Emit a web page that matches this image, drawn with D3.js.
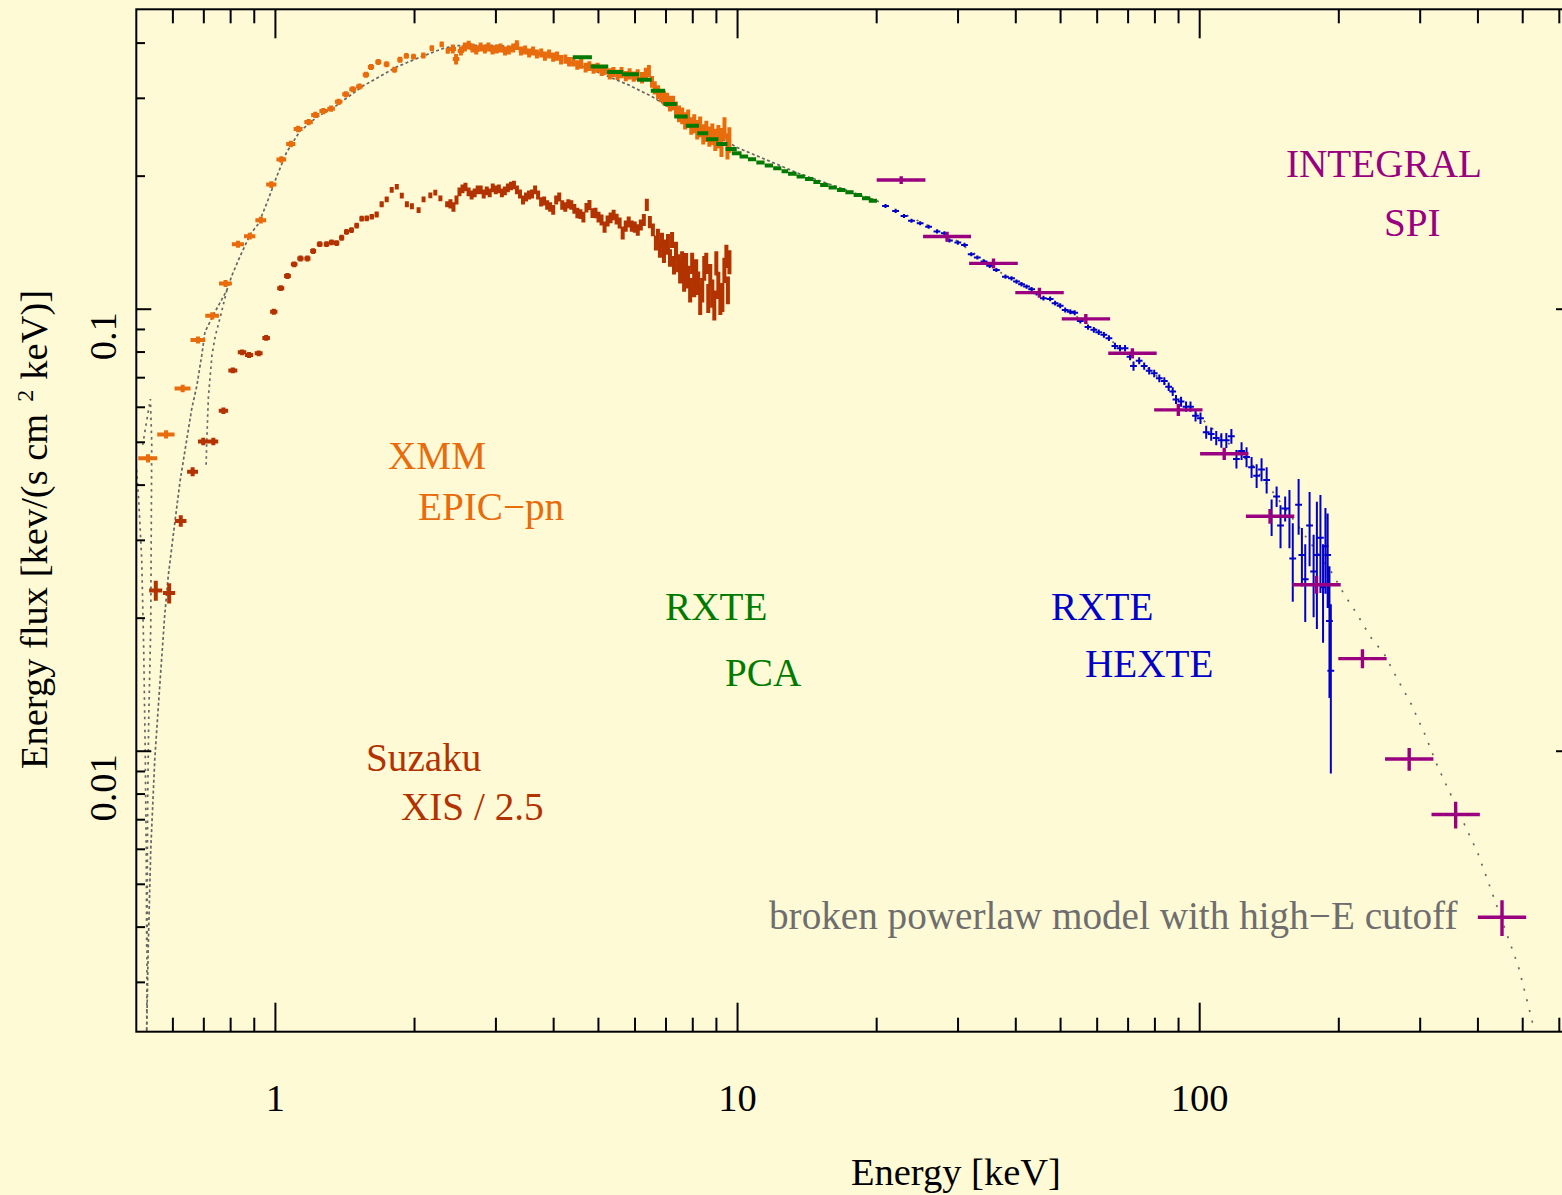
<!DOCTYPE html>
<html>
<head>
<meta charset="utf-8">
<script src="https://cdn.jsdelivr.net/npm/d3@7"></script>
<style>
  html, body { margin: 0; padding: 0; background: #fffad6; }
  svg { display: block; }
  text { font-family: "Liberation Serif", "Times New Roman", serif; }
</style>
</head>
<body>
<svg id="chart" width="1562" height="1195"></svg>
<script>
// ---------------- XMM EPIC-pn (keV, keV/(s cm^2 keV)) ----------------
const xmmEnergy = [0.53, 0.58, 0.63, 0.68, 0.73, 0.78, 0.83, 0.88, 0.93, 0.98, 1.03, 1.08, 1.12, 1.18, 1.22, 1.27, 1.32, 1.37, 1.42, 1.47, 1.52, 1.57, 1.61, 1.67, 1.74, 1.81, 1.86, 1.92, 1.99, 2.09, 2.18, 2.29, 2.36,
  2.42, 2.46, 2.52, 2.57, 2.62, 2.67, 2.72, 2.78, 2.84, 2.89, 2.95, 3.01, 3.07, 3.14, 3.20, 3.27, 3.33, 3.40, 3.47, 3.54, 3.61, 3.68, 3.76, 3.83, 3.91, 3.99, 4.07, 4.15, 4.24, 4.32, 4.41, 4.50, 4.59, 4.69, 4.78, 4.88, 4.98, 5.08, 5.18, 5.29, 5.39, 5.50, 5.61, 5.73, 5.84, 5.96, 6.08, 6.21, 6.33,
  6.43, 6.53, 6.62, 6.73, 6.83, 6.93, 7.04, 7.14, 7.25, 7.36, 7.47, 7.59, 7.70, 7.82, 7.94, 8.06, 8.18, 8.30, 8.43, 8.56, 8.69, 8.82, 8.95, 9.09, 9.23, 9.37, 9.51, 9.60];
const xmmFlux = [0.0460, 0.0521, 0.0662, 0.0852, 0.0966, 0.1143, 0.1403, 0.1463, 0.1590, 0.1914, 0.2181, 0.2366, 0.2557, 0.2651, 0.2752, 0.2808, 0.2842, 0.2945, 0.3064, 0.3145, 0.3190, 0.3392, 0.3532, 0.3625, 0.3582, 0.3483, 0.3667, 0.3742, 0.3727, 0.3750, 0.3894, 0.3973, 0.3842,
  0.388, 0.368, 0.384, 0.392, 0.396, 0.390, 0.386, 0.392, 0.388, 0.392, 0.386, 0.388, 0.390, 0.384, 0.386, 0.390, 0.396, 0.384, 0.386, 0.380, 0.384, 0.378, 0.380, 0.374, 0.378, 0.372, 0.374, 0.367, 0.368, 0.363, 0.363, 0.357, 0.359, 0.352, 0.355, 0.350, 0.352, 0.346, 0.348, 0.341, 0.344, 0.339, 0.343, 0.337, 0.341, 0.336, 0.339, 0.334, 0.341,
  0.346, 0.327, 0.317, 0.310, 0.304, 0.301, 0.298, 0.292, 0.293, 0.283, 0.277, 0.274, 0.267, 0.270, 0.260, 0.263, 0.255, 0.259, 0.249, 0.253, 0.246, 0.249, 0.242, 0.246, 0.239, 0.257, 0.234, 0.242];
const xmmError = [0.0010, 0.0011, 0.0013, 0.0016, 0.0018, 0.0021, 0.0025, 0.0026, 0.0028, 0.0033, 0.0037, 0.0040, 0.0043, 0.0044, 0.0045, 0.0046, 0.0046, 0.0047, 0.0049, 0.0050, 0.0050, 0.0053, 0.0055, 0.0056, 0.0055, 0.0054, 0.0056, 0.0057, 0.0057, 0.0057, 0.0059, 0.0060, 0.0058,
  0.009, 0.010, 0.009, 0.009, 0.009, 0.009, 0.009, 0.009, 0.009, 0.009, 0.009, 0.009, 0.009, 0.009, 0.009, 0.009, 0.010, 0.009, 0.009, 0.009, 0.009, 0.009, 0.009, 0.009, 0.009, 0.009, 0.009, 0.009, 0.009, 0.009, 0.009, 0.009, 0.009, 0.009, 0.009, 0.009, 0.009, 0.009, 0.009, 0.010, 0.009, 0.009, 0.010, 0.009, 0.010, 0.009, 0.010, 0.010, 0.011,
  0.011, 0.010, 0.011, 0.011, 0.010, 0.011, 0.011, 0.012, 0.011, 0.012, 0.012, 0.012, 0.012, 0.013, 0.012, 0.013, 0.013, 0.014, 0.013, 0.014, 0.013, 0.014, 0.014, 0.015, 0.018, 0.015, 0.016, 0.016];

// ---------------- Suzaku XIS, scaled down by 2.5 ----------------
const xisEnergy = [0.551, 0.589, 0.624, 0.662, 0.698, 0.734, 0.772, 0.809, 0.847, 0.877, 0.920, 0.955, 0.992, 1.027, 1.062, 1.098, 1.133, 1.173, 1.207, 1.247, 1.290, 1.323, 1.357, 1.391, 1.425, 1.461, 1.499, 1.537, 1.576, 1.616, 1.656, 1.698, 1.741, 1.785, 1.831, 1.877, 1.925, 1.974, 2.041, 2.092, 2.164, 2.218, 2.275, 2.353,
  2.392, 2.428, 2.465, 2.502, 2.540, 2.578, 2.618, 2.658, 2.698, 2.739, 2.781, 2.823, 2.866, 2.909, 2.953, 2.998, 3.044, 3.090, 3.137, 3.184, 3.233, 3.282, 3.331, 3.382, 3.433, 3.486, 3.538, 3.592, 3.647, 3.702, 3.758, 3.815, 3.873, 3.931, 3.991, 4.051, 4.113, 4.175, 4.239, 4.303,
  4.368, 4.434, 4.502, 4.570, 4.639, 4.710, 4.781, 4.853, 4.927, 5.002, 5.078, 5.155, 5.233, 5.312, 5.393, 5.474, 5.557, 5.642, 5.728, 5.814, 5.903, 5.992, 6.083, 6.175, 6.269, 6.363, 6.460, 6.558,
  6.657, 6.725, 6.792, 6.862, 6.930, 7.000, 7.070, 7.142, 7.215, 7.287, 7.360, 7.435, 7.510, 7.586, 7.662, 7.739, 7.817, 7.896, 7.976, 8.056, 8.137, 8.219, 8.302, 8.387, 8.471, 8.556, 8.642, 8.729, 8.819, 8.907, 8.996, 9.087, 9.179, 9.272, 9.365, 9.459, 9.531, 9.604];
const xisFlux = [0.0231, 0.0228, 0.0332, 0.0429, 0.0502, 0.0502, 0.0589, 0.0727, 0.0799, 0.0788, 0.0795, 0.0861, 0.0987, 0.1116, 0.1189, 0.1264, 0.1303, 0.1303, 0.1354, 0.1403, 0.1403, 0.1417, 0.1411, 0.1451, 0.1496, 0.1510, 0.1546, 0.1603, 0.1606, 0.1619, 0.1638, 0.1728, 0.1773, 0.1862, 0.1893, 0.1807, 0.1728, 0.1710, 0.1675, 0.1773, 0.1809, 0.1836, 0.1782, 0.1728,
  0.1731, 0.1704, 0.1767, 0.1843, 0.1872, 0.1891, 0.1843, 0.1814, 0.1833, 0.1862, 0.1862, 0.1823, 0.1852, 0.1833, 0.1882, 0.1862, 0.1872, 0.1833, 0.1852, 0.1882, 0.1901, 0.1911, 0.1862, 0.1823, 0.1767, 0.1795, 0.1814, 0.1823, 0.1862, 0.1814, 0.1749, 0.1758, 0.1722, 0.1704, 0.1678, 0.1767, 0.1795, 0.1722, 0.1704, 0.1731,
  0.1722, 0.1687, 0.1652, 0.1642, 0.1617, 0.1696, 0.1722, 0.1651, 0.1652, 0.1617, 0.1592, 0.1535, 0.1584, 0.1609, 0.1634, 0.1600, 0.1567, 0.1488, 0.1543, 0.1575, 0.1543, 0.1535, 0.1512, 0.1551, 0.1592, 0.1722, 0.1575, 0.1512,
  0.1413, 0.1465, 0.1362, 0.1435, 0.1327, 0.1383, 0.1420, 0.1307, 0.1435, 0.1259, 0.1362, 0.1272, 0.1214, 0.1293, 0.1165, 0.1280, 0.1184, 0.1106, 0.1272, 0.1135, 0.1227, 0.1147, 0.1050, 0.1106, 0.1240, 0.1272, 0.1061, 0.1196, 0.1088, 0.1023, 0.1272, 0.1135, 0.1050, 0.1066, 0.1227, 0.1320, 0.1106, 0.1280];
const xisError = [0.0012, 0.0012, 0.0010, 0.0010, 0.0010, 0.0010, 0.0010, 0.0011, 0.0012, 0.0012, 0.0012, 0.0013, 0.0015, 0.0017, 0.0018, 0.0019, 0.0020, 0.0020, 0.0020, 0.0021, 0.0021, 0.0021, 0.0021, 0.0022, 0.0022, 0.0023, 0.0023, 0.0024, 0.0024, 0.0024, 0.0025, 0.0026, 0.0027, 0.0028, 0.0028, 0.0027, 0.0026, 0.0026, 0.0025, 0.0027, 0.0027, 0.0028, 0.0027, 0.0026,
  0.0042, 0.0042, 0.0042, 0.0042, 0.0042, 0.0042, 0.0042, 0.0042, 0.0042, 0.0042, 0.0042, 0.0042, 0.0042, 0.0042, 0.0042, 0.0042, 0.0042, 0.0042, 0.0042, 0.0042, 0.0042, 0.0042, 0.0042, 0.0042, 0.0042, 0.0042, 0.0042, 0.0042, 0.0042, 0.0042, 0.0042, 0.0042, 0.0042, 0.0042, 0.0042, 0.0042, 0.0042, 0.0042, 0.0042, 0.0042,
  0.0042, 0.0042, 0.0045, 0.0042, 0.0045, 0.0042, 0.0045, 0.0042, 0.0045, 0.0045, 0.0045, 0.0045, 0.0045, 0.0045, 0.0045, 0.0045, 0.0045, 0.0050, 0.0045, 0.0045, 0.0045, 0.0045, 0.0045, 0.0045, 0.0050, 0.0055, 0.0050, 0.0050,
  0.0055, 0.0055, 0.0055, 0.0055, 0.0055, 0.0055, 0.006, 0.006, 0.006, 0.006, 0.006, 0.006, 0.007, 0.006, 0.007, 0.006, 0.007, 0.007, 0.007, 0.007, 0.007, 0.007, 0.008, 0.007, 0.008, 0.007, 0.008, 0.007, 0.008, 0.008, 0.008, 0.008, 0.008, 0.008, 0.008, 0.008, 0.008, 0.008];
const xisHalfBin = 0.018;

// ---------------- RXTE PCA ----------------
const pcaEnergy = [4.62, 5.03, 5.44, 5.87, 6.29, 6.73, 7.15, 7.55, 7.99, 8.41, 8.82, 9.25, 9.69, 9.96, 10.32, 10.75, 11.21, 11.69, 12.19, 12.66, 13.14, 13.70, 14.29, 14.84, 15.41, 16.07, 16.75, 17.47, 18.21, 18.98, 19.63];
const pcaHalfWidth = [0.22, 0.22, 0.22, 0.25, 0.23, 0.24, 0.24, 0.25, 0.26, 0.23, 0.27, 0.26, 0.27, 0.24, 0.22, 0.22, 0.23, 0.24, 0.25, 0.21, 0.28, 0.28, 0.30, 0.25, 0.32, 0.33, 0.34, 0.36, 0.38, 0.39, 0.40];
const pcaFlux = [0.3717, 0.3539, 0.3443, 0.3402, 0.3303, 0.3119, 0.2911, 0.2728, 0.2599, 0.2502, 0.2425, 0.2366, 0.2305, 0.2254, 0.2215, 0.2185, 0.2147, 0.2115, 0.2083, 0.2052, 0.2024, 0.1997, 0.1971, 0.1940, 0.1911, 0.1886, 0.1862, 0.1838, 0.1814, 0.1783, 0.1759];
const pcaError = [0.002, 0.002, 0.002, 0.002, 0.002, 0.002, 0.002, 0.002, 0.002, 0.002, 0.002, 0.002, 0.0015, 0.0015, 0.0015, 0.0015, 0.0015, 0.0015, 0.0015, 0.0015, 0.0015, 0.0015, 0.0015, 0.0015, 0.0015, 0.0015, 0.0015, 0.0015, 0.0015, 0.0015, 0.0015];

// ---------------- RXTE HEXTE ----------------
const hexteEnergy = [20.90, 21.98, 22.92, 23.79, 24.84, 25.91, 27.01, 28.02, 28.74, 29.97, 30.98, 32.04, 33.02, 34.15, 35.12, 36.31, 37.99, 39.16, 40.15, 41.17, 42.21, 43.29, 44.38, 45.91, 47.47, 48.66, 49.91, 51.17, 52.48, 53.64, 55.17, 57.33, 59.01, 60.48, 62.04, 63.62, 65.56, 67.22, 68.94, 70.69, 71.91, 73.97, 75.84, 77.76, 79.73, 81.78, 83.85, 85.69, 87.42, 88.87, 91.14, 93.44, 95.52, 97.95, 100.4,
  103.3, 105.9, 108.6, 111.4, 114.2, 117.1, 120.1, 123.2, 126.3, 129.5, 132.8, 136.1, 139.6, 143.1, 146.7, 149.6, 153.1, 156.4, 159.0, 163.7, 166.4, 169.2, 172.9, 176.4, 179.3, 182.5, 184.9, 187.1, 189.2, 190.9, 192.2];
const hexteFlux = [0.1713, 0.1669, 0.1626, 0.1586, 0.1565, 0.1537, 0.1499, 0.1486, 0.1430, 0.1415, 0.1398, 0.1332, 0.1309, 0.1282, 0.1254, 0.1227, 0.1185, 0.1175, 0.1155, 0.1139, 0.1125, 0.1110, 0.1087, 0.1059, 0.1055, 0.1032, 0.1018, 0.0996, 0.0987, 0.0982, 0.0941, 0.0911, 0.0898, 0.0887, 0.0875, 0.0860, 0.0826, 0.0816, 0.0816, 0.0781, 0.0744, 0.0765, 0.0744, 0.0726, 0.0716, 0.0698, 0.0688, 0.0668, 0.0651, 0.0625, 0.0618, 0.0602, 0.0602, 0.0574, 0.0567,
  0.0527, 0.0522, 0.0511, 0.0505, 0.0505, 0.0516, 0.0458, 0.0478, 0.0463, 0.0439, 0.0420, 0.0434, 0.0411, 0.0339, 0.0377, 0.0324, 0.0354, 0.0339, 0.0273, 0.0361, 0.0278, 0.0245, 0.0324, 0.0255, 0.0278, 0.0304, 0.0235, 0.0291, 0.0278, 0.0197, 0.0152];
const hexteError = [0.0018, 0.0018, 0.0017, 0.0017, 0.0017, 0.0016, 0.0016, 0.0016, 0.0015, 0.0015, 0.0015, 0.0014, 0.0014, 0.0014, 0.0014, 0.0013, 0.0013, 0.0013, 0.0013, 0.0013, 0.0013, 0.0013, 0.0013, 0.0013, 0.0013, 0.0013, 0.0013, 0.0013, 0.0013, 0.0013, 0.0013, 0.0013, 0.0013, 0.0013, 0.0013, 0.0013, 0.0014, 0.0014, 0.0014, 0.0014, 0.0018, 0.0014, 0.0014, 0.0014, 0.0014, 0.0014, 0.0014, 0.0015, 0.0015, 0.0015, 0.0016, 0.0016, 0.0016, 0.0017, 0.0017,
  0.0018, 0.0018, 0.0019, 0.0019, 0.0020, 0.0020, 0.0022, 0.0022, 0.0024, 0.0024, 0.0026, 0.0026, 0.0028, 0.0032, 0.0020, 0.0036, 0.0023, 0.0051, 0.0055, 0.0052, 0.0042, 0.0049, 0.0062, 0.0054, 0.0089, 0.0076, 0.0059, 0.0064, 0.0067, 0.0065, 0.0063];
const hexteHalfBinFraction = 0.017;

// ---------------- INTEGRAL SPI ----------------
const spiEnergy = [22.6, 28.4, 35.8, 45.0, 56.7, 71.5, 89.9, 113, 142, 179, 225, 284, 358, 451];
const spiLow    = [20.0, 25.2, 31.7, 39.9, 50.3, 63.4, 79.7, 100.2, 125.9, 158.7, 199.5, 251.8, 317.4, 399.8];
const spiHigh   = [25.5, 32.0, 40.4, 50.8, 64.0, 80.7, 101.4, 127.5, 160.2, 201.9, 253.8, 320.4, 403.8, 508.7];
const spiFlux   = [0.196, 0.146, 0.127, 0.109, 0.0951, 0.0795, 0.0592, 0.0471, 0.0340, 0.0238, 0.0162, 0.0096, 0.00719, 0.00421];
const spiError  = [0.0040, 0.0038, 0.0033, 0.0028, 0.0025, 0.0021, 0.0019, 0.0015, 0.0013, 0.0011, 0.0008, 0.00057, 0.0005, 0.00039];

// ---------------- broken power law with high-energy cutoff ----------------
const modelEnergy = [0.5266, 0.5305, 0.5373, 0.5481, 0.5593, 0.576, 0.586, 0.601, 0.6215, 0.637, 0.659, 0.676, 0.693, 0.704, 0.744, 0.785, 0.805, 0.840, 0.883, 0.920, 0.960, 1.005, 1.057, 1.129, 1.227, 1.357, 1.549, 1.831, 2.038, 2.313, 2.474, 2.827, 3.074, 3.286, 3.758, 4.296, 4.749, 5.250, 5.805, 6.526, 8.387, 10.01, 13.65, 20.04, 28.98, 37.24, 47.87, 61.52, 79.06, 101.6, 130.6, 159.6, 193.5, 205.1, 219.2, 234.4, 250.7, 268.0, 286.6, 306.4, 327.5, 350.3, 374.5, 400.3, 428.2, 457.8, 489.3, 523.3, 529.5];
const modelFlux = [0.00234, 0.00355, 0.00598, 0.00956, 0.0131, 0.0203, 0.0248, 0.0308, 0.0407, 0.0478, 0.0595, 0.0671, 0.0788, 0.0889, 0.0996, 0.1104, 0.1192, 0.1323, 0.1479, 0.1564, 0.1747, 0.1988, 0.2264, 0.2525, 0.2716, 0.2892, 0.3202, 0.3534, 0.3704, 0.3895, 0.3947, 0.3955, 0.3947, 0.3915, 0.3796, 0.3631, 0.3510, 0.3361, 0.3218, 0.3028, 0.2572, 0.2318, 0.2023, 0.1759, 0.1458, 0.1208, 0.1050, 0.0879, 0.0721, 0.0562, 0.0442, 0.0334, 0.0253, 0.0227, 0.0204, 0.0181, 0.0166, 0.01455, 0.01281, 0.01098, 0.00923, 0.00793, 0.00681, 0.00586, 0.00482, 0.00396, 0.00326, 0.00247, 0.00232];
// absorbed low-energy branches of the model folded through each instrument
const edgeBranchEnergy = [0.785, 0.760, 0.741, 0.729, 0.716, 0.710, 0.708];
const edgeBranchFlux   = [0.1104, 0.0961, 0.0869, 0.0787, 0.0632, 0.0497, 0.0444];
const peakBranchEnergy = [0.5162, 0.5292, 0.5364, 0.5400, 0.5387, 0.5373, 0.5319, 0.5292, 0.5279, 0.5266];
const peakBranchFlux   = [0.0493, 0.0577, 0.0626, 0.0498, 0.0322, 0.0191, 0.0118, 0.00776, 0.00461, 0.00232];
const leftBranchEnergy = [0.5006, 0.5060, 0.5137, 0.5188, 0.5227, 0.5253, 0.5266];
const leftBranchFlux   = [0.0433, 0.0370, 0.0271, 0.0170, 0.01007, 0.00598, 0.00355];

// ---------------- axis ticks ----------------
const xMajorTicks = [1, 10, 100];
const xTickLabels = ["1", "10", "100"];
const xMinorTicks = [0.6, 0.7, 0.8, 0.9, 2, 3, 4, 5, 6, 7, 8, 9, 20, 30, 40, 50, 60, 70, 80, 90, 200, 300, 400, 500, 600];
const yMajorTicks = [0.01, 0.1];
const yTickLabels = ["0.01", "0.1"];
const yMinorTicks = [0.003, 0.004, 0.005, 0.006, 0.007, 0.008, 0.009, 0.02, 0.03, 0.04, 0.05, 0.06, 0.07, 0.08, 0.09, 0.2, 0.3, 0.4];

// ---------------- layout ----------------
const W = 1562, H = 1195;
const frame = { left: 136.3, right: 1571, top: 9.3, bottom: 1031.7 };
const TICK_FONT = 38.5, NOTE_FONT = 39.2;

const svg = d3.select("#chart");
svg.append("rect").attr("width", W).attr("height", H).attr("fill", "#fffad6");

const x = d3.scaleLog().domain([0.5, 636]).range([frame.left, frame.right]);
const y = d3.scaleLog().domain([0.00232, 0.477]).range([frame.bottom, frame.top]);

svg.append("clipPath").attr("id", "plotclip")
  .append("rect")
  .attr("x", frame.left).attr("y", frame.top)
  .attr("width", frame.right - frame.left).attr("height", frame.bottom - frame.top);

const plot = svg.append("g").attr("clip-path", "url(#plotclip)");

// model curves: short dashes below 20 keV, sparse dots along the cutoff
const line = d3.line().x(d => x(d[0])).y(d => y(d[1]));
const pairs = (E, F) => E.map((e, i) => [e, F[i]]);
const model = pairs(modelEnergy, modelFlux);
const split = modelEnergy.findIndex(e => e >= 20);
const modelStroke = "#666666";
function dashed(points, dash) {
  plot.append("path")
    .attr("d", line(points))
    .attr("fill", "none").attr("stroke", modelStroke).attr("stroke-width", 1.7)
    .attr("stroke-dasharray", dash);
}
dashed(model.slice(0, split + 1), "3,2.5");
dashed(model.slice(split), "2,9");
dashed(pairs(edgeBranchEnergy, edgeBranchFlux), "2.5,3.5");
dashed(pairs(peakBranchEnergy, peakBranchFlux), "2.5,4");
dashed(pairs(leftBranchEnergy, leftBranchFlux), "2.5,4");

// error-bar crosses
function crosses(energy, lo, hi, flux, err, color, width) {
  const yMin = y.domain()[0] * 0.5;
  const d = energy.map((e, i) => {
    const f = flux[i];
    const top = y(f + err[i]);
    const bot = y(Math.max(f - err[i], yMin));
    return `M${x(lo[i])},${y(f)}H${x(hi[i])}M${x(e)},${top}V${bot}`;
  }).join("");
  plot.append("path")
    .attr("d", d)
    .attr("fill", "none")
    .attr("stroke", color)
    .attr("stroke-width", width)
    .attr("stroke-linecap", "butt");
}

// XMM channels are grouped coarser above 2.4 keV
const xmmHalfBin = e => (e < 2.4 ? 0.025 : 0.04);

crosses(xisEnergy, xisEnergy.map(e => e - xisHalfBin), xisEnergy.map(e => e + xisHalfBin),
        xisFlux, xisError, "#b23200", 4);
crosses(xmmEnergy, xmmEnergy.map(e => e - xmmHalfBin(e)), xmmEnergy.map(e => e + xmmHalfBin(e)),
        xmmFlux, xmmError, "#e86c0c", 4);
crosses(pcaEnergy, pcaEnergy.map((e, i) => e - pcaHalfWidth[i]), pcaEnergy.map((e, i) => e + pcaHalfWidth[i]),
        pcaFlux, pcaError, "#007a00", 4);
crosses(hexteEnergy, hexteEnergy.map(e => e * (1 - hexteHalfBinFraction)), hexteEnergy.map(e => e * (1 + hexteHalfBinFraction)),
        hexteFlux, hexteError, "#0000c8", 2);
crosses(spiEnergy, spiLow, spiHigh, spiFlux, spiError, "#990080", 3.4);

// frame and ticks (ticks point inward on all four sides)
const axis = svg.append("g").attr("stroke", "#000").attr("stroke-width", 2).attr("fill", "none");
axis.append("rect")
  .attr("x", frame.left).attr("y", frame.top)
  .attr("width", frame.right - frame.left).attr("height", frame.bottom - frame.top);

const xTick = (v, len) => {
  axis.append("line").attr("x1", x(v)).attr("x2", x(v)).attr("y1", frame.bottom).attr("y2", frame.bottom - len);
  axis.append("line").attr("x1", x(v)).attr("x2", x(v)).attr("y1", frame.top).attr("y2", frame.top + len);
};
const yTick = (v, len) => {
  axis.append("line").attr("y1", y(v)).attr("y2", y(v)).attr("x1", frame.left).attr("x2", frame.left + len);
  axis.append("line").attr("y1", y(v)).attr("y2", y(v)).attr("x1", frame.right).attr("x2", frame.right - len);
};
xMajorTicks.forEach(v => xTick(v, 29));
xMinorTicks.forEach(v => xTick(v, 14));
yMajorTicks.forEach(v => yTick(v, 15));
yMinorTicks.forEach(v => yTick(v, 8.7));

// tick labels
svg.append("g").selectAll("text").data(xMajorTicks).join("text")
  .attr("x", d => x(d)).attr("y", 1111)
  .attr("text-anchor", "middle").attr("font-size", TICK_FONT).attr("fill", "#000")
  .text((d, i) => xTickLabels[i]);

svg.append("g").selectAll("text").data(yMajorTicks).join("text")
  .attr("transform", d => `translate(116,${y(d) + 3}) rotate(-90)`)
  .attr("text-anchor", "end").attr("font-size", TICK_FONT).attr("fill", "#000")
  .text((d, i) => yTickLabels[i]);

// axis titles
svg.append("text")
  .attr("x", 851).attr("y", 1185)
  .attr("font-size", TICK_FONT).attr("fill", "#000")
  .text("Energy [keV]");

const yTitle = svg.append("text")
  .attr("transform", "translate(47,769) rotate(-90)")
  .attr("font-size", TICK_FONT).attr("fill", "#000");
yTitle.append("tspan").text("Energy flux [kev/(s cm");
yTitle.append("tspan").attr("dx", 12).attr("dy", -14).attr("font-size", 24).text("2");
yTitle.append("tspan").attr("dx", 10).attr("dy", 14).text("keV)]");

// instrument annotations
const notes = [
  { t: "XMM", x: 388, y: 469, c: "#e86c0c" },
  { t: "EPIC\u2212pn", x: 418, y: 520, c: "#e86c0c" },
  { t: "RXTE", x: 665, y: 620, c: "#007a00" },
  { t: "PCA", x: 725, y: 686, c: "#007a00" },
  { t: "Suzaku", x: 366, y: 771, c: "#b23200" },
  { t: "XIS / 2.5", x: 401, y: 820, c: "#b23200" },
  { t: "RXTE", x: 1051, y: 620, c: "#0000c8" },
  { t: "HEXTE", x: 1085, y: 677, c: "#0000c8" },
  { t: "INTEGRAL", x: 1286, y: 177, c: "#990080" },
  { t: "SPI", x: 1384, y: 236, c: "#990080" },
  { t: "broken powerlaw model with high\u2212E cutoff", x: 769, y: 929, c: "#6e6e6e" }
];
svg.append("g").selectAll("text").data(notes).join("text")
  .attr("x", d => d.x).attr("y", d => d.y)
  .attr("font-size", NOTE_FONT).attr("fill", d => d.c)
  .text(d => d.t);
</script>
</body>
</html>
